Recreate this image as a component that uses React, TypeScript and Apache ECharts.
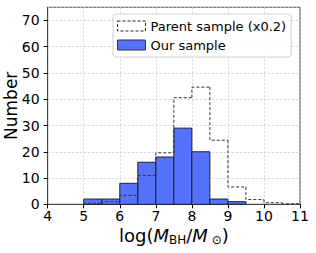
import React, { useEffect, useRef } from "react";
import * as echarts from "echarts";

const binStarts = [5, 5.5, 6, 6.5, 7, 7.5, 8, 8.5, 9, 9.5, 10, 10.5];
const binWidth = 0.5;
const ourCounts = [2, 2, 8, 16, 18, 29, 20, 2, 1, 0, 0, 0];
const parentScaled = [0.4, 1.0, 3.4, 11.0, 19.6, 40.6, 44.6, 24.4, 6.6, 1.8, 0.6, 0.2];
const yTicks = [0, 10, 20, 30, 40, 50, 60, 70];
const xTicks = [4, 5, 6, 7, 8, 9, 10, 11];

const BLUE = "#5672fc";
const FONT = "DejaVu Sans";

export default function App() {
  const ref = useRef<HTMLDivElement>(null);
  useEffect(() => {
    if (!ref.current) return;
    const chart = echarts.init(ref.current, undefined, { renderer: "svg" });
    const ourData = binStarts.map((s, i) => [s, s + binWidth, ourCounts[i]]);
    const parentData = binStarts.map((s, i) => [
      s,
      s + binWidth,
      parentScaled[i],
      i === 0 ? 0 : parentScaled[i - 1],
      i === binStarts.length - 1 ? 1 : 0,
    ]);
    chart.setOption({
      animation: false,
      grid: {
        left: 47.7,
        right: 16,
        top: 7.3,
        bottom: 48.7,
        containLabel: false,
        outerBoundsMode: "none",
        show: true,
        borderColor: "#444",
        borderWidth: 1,
        backgroundColor: "transparent",
      },
      legend: {
        orient: "vertical",
        left: 113,
        top: 14,
        padding: [5, 5, 5, 4],
        itemGap: 5,
        itemWidth: 28,
        itemHeight: 10,
        backgroundColor: "rgba(255,255,255,0.85)",
        borderColor: "#d0d0d0",
        borderWidth: 1,
        borderRadius: 3,
        textStyle: { fontFamily: FONT, fontSize: 13, color: "#000", lineHeight: 14 },
        data: [
          {
            name: "Parent sample (x0.2)",
            icon: "rect",
            itemStyle: { color: "#fff", borderColor: "#222", borderWidth: 1, borderType: [3, 2] },
          },
          {
            name: "Our sample",
            icon: "rect",
            itemStyle: { color: BLUE, borderColor: "#333", borderWidth: 1 },
          },
        ],
      },
      xAxis: {
        type: "value",
        min: 4,
        max: 11,
        interval: 1,
        axisLine: { show: true, lineStyle: { color: "#444" } },
        axisTick: { show: true, inside: false, length: 4, lineStyle: { color: "#000" } },
        axisLabel: {
          fontFamily: FONT,
          fontSize: 14,
          color: "#000",
          margin: 5,
          formatter: (v: number) => (xTicks.includes(v) ? String(v) : ""),
        },
        splitLine: { show: true, lineStyle: { color: "#c8c8c8", type: [2, 2], width: 0.8 } },
        name: "{n|log(}{i|M}{s|BH}{n|/}{i|M}{s| ⊙}{n|)}",
        nameLocation: "middle",
        nameGap: 21,
        nameMoveOverlap: false,
        nameTextStyle: {
          fontFamily: FONT,
          color: "#000",
          rich: {
            n: { fontSize: 18, fontFamily: FONT, lineHeight: 21, color: "#000" },
            i: { fontSize: 18, fontFamily: FONT, fontStyle: "italic", lineHeight: 21, color: "#000" },
            s: { fontSize: 12, fontFamily: FONT, lineHeight: 12, verticalAlign: "bottom", color: "#000" },
          },
        },
      },
      yAxis: {
        type: "value",
        min: 0,
        max: 75,
        interval: 10,
        axisLine: { show: true, lineStyle: { color: "#444" } },
        axisTick: { show: true, inside: false, length: 4, lineStyle: { color: "#000" } },
        axisLabel: {
          fontFamily: FONT,
          fontSize: 14,
          color: "#000",
          margin: 8,
          showMaxLabel: false,
          formatter: (v: number) => (yTicks.includes(v) ? String(v) : ""),
        },
        splitLine: { show: true, lineStyle: { color: "#c8c8c8", type: [2, 2], width: 0.8 } },
        name: "Number",
        nameLocation: "middle",
        nameGap: 28,
        nameMoveOverlap: false,
        nameTextStyle: { fontFamily: FONT, fontSize: 17, color: "#000" },
      },
      series: [
        {
          name: "Our sample",
          type: "custom",
          z: 2,
          itemStyle: { color: BLUE, borderColor: "#333", borderWidth: 1 },
          renderItem: (params: any, api: any) => {
            const x0 = api.value(0);
            const x1 = api.value(1);
            const h = api.value(2);
            if (h <= 0) return null;
            const p0 = api.coord([x0, h]);
            const p1 = api.coord([x1, 0]);
            return {
              type: "rect",
              shape: { x: p0[0], y: p0[1], width: p1[0] - p0[0], height: p1[1] - p0[1] },
              style: { fill: BLUE, stroke: "#222", lineWidth: 1 },
            };
          },
          data: ourData,
        },
        {
          name: "Parent sample (x0.2)",
          type: "custom",
          z: 3,
          itemStyle: { color: "#fff", borderColor: "#222", borderWidth: 1, borderType: "dashed" },
          renderItem: (params: any, api: any) => {
            const x0 = api.value(0);
            const x1 = api.value(1);
            const h = api.value(2);
            const hp = api.value(3);
            const last = api.value(4);
            const a = api.coord([x0, hp]);
            const b = api.coord([x0, h]);
            const c = api.coord([x1, h]);
            const pts = [a, b, c];
            if (last) pts.push(api.coord([x1, 0]));
            return {
              type: "polyline",
              shape: { points: pts },
              style: { fill: "none", stroke: "#333", lineWidth: 1, lineDash: [3, 2] },
            };
          },
          data: parentData,
        },
      ],
    });
    return () => chart.dispose();
  }, []);
  return <div ref={ref} style={{ width: 316, height: 253, position: "absolute", left: 0, top: 0 }} />;
}
